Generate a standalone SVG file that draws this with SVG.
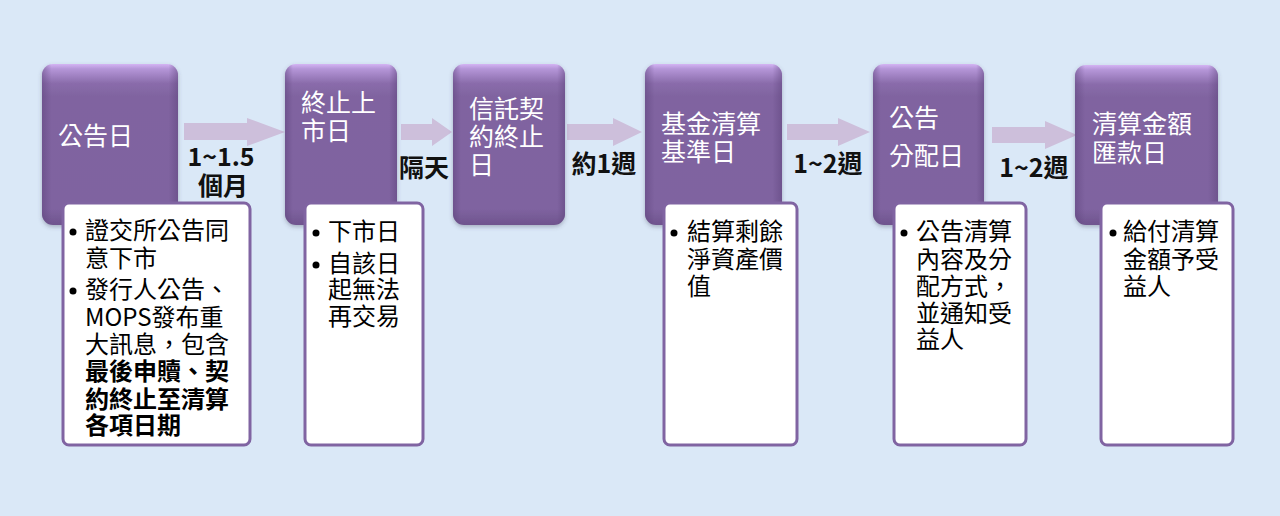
<svg xmlns="http://www.w3.org/2000/svg" width="1280" height="516" viewBox="0 0 1280 516">
<style>
.pbox{fill:url(#pg);}
.pside{fill:url(#ps);}
.ptxt{fill:#ffffff;font-family:"Noto Sans CJK TC","Noto Sans CJK SC",sans-serif;font-size:25px;}
.wbox{fill:#ffffff;stroke:#8064a2;stroke-width:3;}
.btxt{fill:#000000;font-family:"Noto Sans CJK TC","Noto Sans CJK SC",sans-serif;font-size:24px;}
.bold{font-weight:bold;}
.dot{fill:#000000;}
.lbl{fill:#111111;font-family:"Noto Sans CJK TC","Noto Sans CJK SC",sans-serif;font-size:25px;font-weight:bold;text-anchor:middle;}
.arr{fill:#cdbfdb;}
</style>
<defs>
<linearGradient id="pg" x1="0" y1="0" x2="0" y2="1">
<stop offset="0" stop-color="#d4b4f4"/>
<stop offset="0.03" stop-color="#b596d8"/>
<stop offset="0.12" stop-color="#8a6cab"/>
<stop offset="0.2" stop-color="#8064a0"/>
<stop offset="0.9" stop-color="#7f63a0"/>
<stop offset="1" stop-color="#6f548e"/>
</linearGradient>
<linearGradient id="ps" x1="0" y1="0" x2="1" y2="0">
<stop offset="0" stop-color="#5a4078" stop-opacity="0.45"/>
<stop offset="0.07" stop-color="#5a4078" stop-opacity="0"/>
<stop offset="0.93" stop-color="#5a4078" stop-opacity="0"/>
<stop offset="1" stop-color="#5a4078" stop-opacity="0.45"/>
</linearGradient>
<filter id="sh" x="-10%" y="-10%" width="120%" height="120%">
<feDropShadow dx="0" dy="2" stdDeviation="2" flood-color="#404060" flood-opacity="0.35"/>
</filter>
</defs>
<rect x="0" y="0" width="1280" height="516" fill="#dae8f7"/>

<g id="connectors">
<polygon class="arr" points="184,123 247,123 247,118 285,132 247,146 247,140 184,140"/>
<polygon class="arr" points="401,124 432,124 432,118 452,132 432,146 432,140 401,140"/>
<polygon class="arr" points="567,124 613,124 613,118 642,132 613,146 613,140 567,140"/>
<polygon class="arr" points="787,124 838,124 838,118 870,132 838,146 838,140 787,140"/>
<polygon class="arr" points="992,127 1045,127 1045,121 1077,135 1045,149 1045,143 992,143"/>
<text class="lbl" x="221" y="166">1~1.5</text>
<text class="lbl" x="223" y="195">個月</text>
<text class="lbl" x="424" y="177">隔天</text>
<text class="lbl" x="604" y="173">約1週</text>
<text class="lbl" x="828" y="173">1~2週</text>
<text class="lbl" x="1034" y="177">1~2週</text>
</g>

<g id="node1">
<g filter="url(#sh)"><rect class="pbox" x="42" y="64" width="136" height="161" rx="11"/></g>
<rect class="pside" x="42" y="64" width="136" height="161" rx="11"/>
<text class="ptxt" x="58" y="145">公告日</text>
<rect class="wbox" x="63" y="203" width="187" height="242" rx="6"/>
<circle class="dot" cx="73" cy="232" r="3.5"/>
<circle class="dot" cx="73" cy="291" r="3.5"/>
<g class="btxt">
<text x="85" y="239">證交所公告同</text>
<text x="85" y="267">意下市</text>
<text x="85" y="298">發行人公告、</text>
<text x="85" y="326">MOPS發布重</text>
<text x="85" y="353">大訊息，包含</text>
<text class="bold" x="85" y="380">最後申贖、契</text>
<text class="bold" x="85" y="408">約終止至清算</text>
<text class="bold" x="85" y="434">各項日期</text>
</g>
</g>

<g id="node2">
<g filter="url(#sh)"><rect class="pbox" x="285" y="64" width="112" height="161" rx="11"/></g>
<rect class="pside" x="285" y="64" width="112" height="161" rx="11"/>
<text class="ptxt" x="301" y="112">終止上</text>
<text class="ptxt" x="301" y="140">市日</text>
<rect class="wbox" x="305" y="203" width="118" height="242" rx="6"/>
<circle class="dot" cx="316" cy="233" r="3.5"/>
<circle class="dot" cx="316" cy="265" r="3.5"/>
<g class="btxt">
<text x="328" y="240">下市日</text>
<text x="328" y="272">自該日</text>
<text x="328" y="298">起無法</text>
<text x="328" y="325">再交易</text>
</g>
</g>

<g id="node3">
<g filter="url(#sh)"><rect class="pbox" x="453" y="64" width="112" height="161" rx="11"/></g>
<rect class="pside" x="453" y="64" width="112" height="161" rx="11"/>
<text class="ptxt" x="469" y="118">信託契</text>
<text class="ptxt" x="469" y="146">約終止</text>
<text class="ptxt" x="469" y="174">日</text>
</g>

<g id="node4">
<g filter="url(#sh)"><rect class="pbox" x="645" y="64" width="137" height="161" rx="11"/></g>
<rect class="pside" x="645" y="64" width="137" height="161" rx="11"/>
<text class="ptxt" x="661" y="133">基金清算</text>
<text class="ptxt" x="661" y="161">基準日</text>
<rect class="wbox" x="664" y="203" width="133" height="242" rx="6"/>
<circle class="dot" cx="674" cy="233" r="3.5"/>
<g class="btxt">
<text x="687" y="240">結算剩餘</text>
<text x="687" y="268">淨資產價</text>
<text x="687" y="295">值</text>
</g>
</g>

<g id="node5">
<g filter="url(#sh)"><rect class="pbox" x="873" y="64" width="111" height="161" rx="11"/></g>
<rect class="pside" x="873" y="64" width="111" height="161" rx="11"/>
<text class="ptxt" x="889" y="127">公告</text>
<text class="ptxt" x="889" y="165">分配日</text>
<rect class="wbox" x="894" y="203" width="132" height="242" rx="6"/>
<circle class="dot" cx="904" cy="233" r="3.5"/>
<g class="btxt">
<text x="916" y="240">公告清算</text>
<text x="916" y="268">內容及分</text>
<text x="916" y="295">配方式，</text>
<text x="916" y="322">並通知受</text>
<text x="916" y="348">益人</text>
</g>
</g>

<g id="node6">
<g filter="url(#sh)"><rect class="pbox" x="1075" y="65" width="143" height="160" rx="11"/></g>
<rect class="pside" x="1075" y="65" width="143" height="160" rx="11"/>
<text class="ptxt" x="1092" y="133">清算金額</text>
<text class="ptxt" x="1092" y="162">匯款日</text>
<rect class="wbox" x="1101" y="203" width="132" height="242" rx="6"/>
<circle class="dot" cx="1113" cy="233" r="3.5"/>
<g class="btxt">
<text x="1123" y="240">給付清算</text>
<text x="1123" y="268">金額予受</text>
<text x="1123" y="295">益人</text>
</g>
</g>
</svg>
